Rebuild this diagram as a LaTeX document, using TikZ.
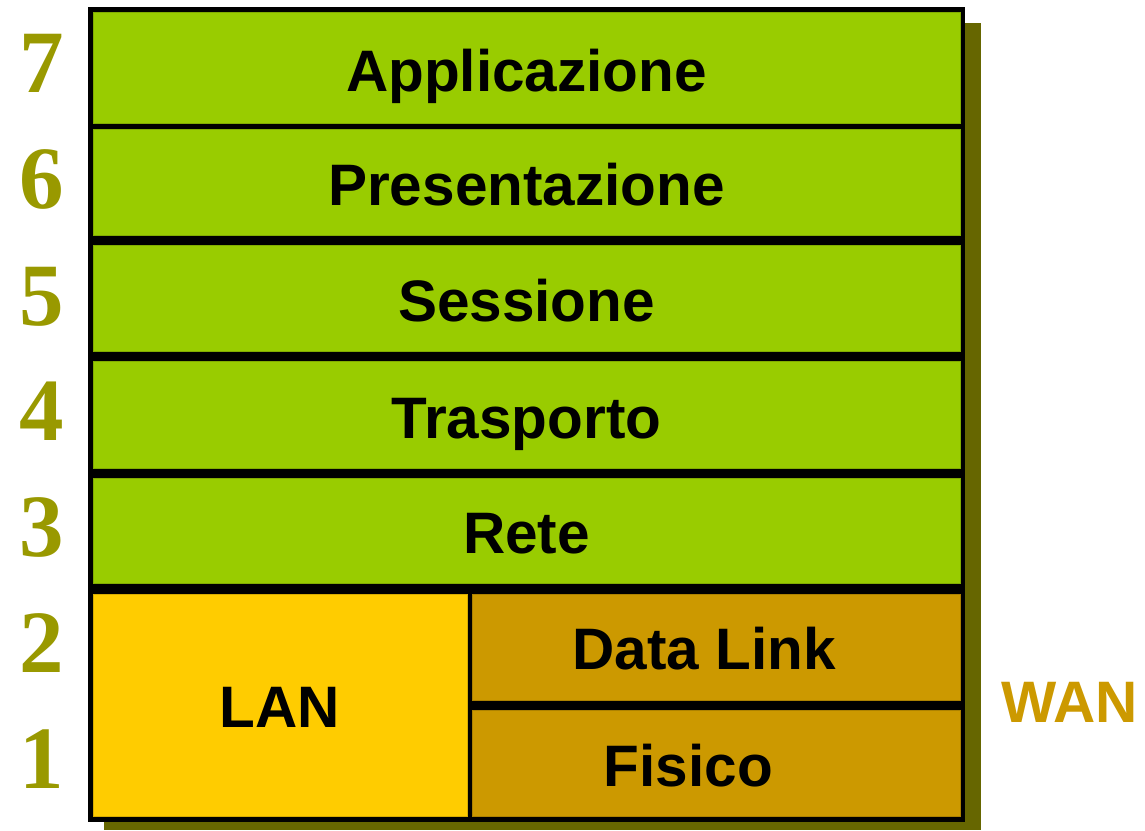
\documentclass[tikz,border=0pt]{standalone}
\usepackage{fontspec}
\setmainfont{Liberation Sans}
\newfontfamily\numfont{Liberation Serif}
\definecolor{layergreen}{HTML}{99CC00}
\definecolor{langold}{HTML}{FFCC00}
\definecolor{wanochre}{HTML}{CC9900}
\definecolor{shadowolive}{HTML}{666600}
\definecolor{numolive}{HTML}{999900}
\tikzset{
  cell/.style={anchor=north west, inner sep=0pt, outer sep=0pt, line width=0.8pt},
  greencell/.style={cell, fill=layergreen, draw=layergreen!85!black},
  lancell/.style={cell, fill=langold, draw=langold!85!black},
  wancell/.style={cell, fill=wanochre, draw=wanochre!85!black},
  lbl/.style={anchor=base, inner sep=0pt, font=\fontsize{58.5}{60}\selectfont\bfseries},
  num/.style={anchor=base, inner sep=0pt, text=numolive, font=\numfont\fontsize{89}{92}\selectfont\bfseries},
}
\begin{document}
\begin{tikzpicture}[x=1pt, y=-1pt]
  \useasboundingbox (0,0) rectangle (1145,830);
  % drop shadow and black frame
  \fill[shadowolive] (104,23) rectangle (981,830);
  \fill[black] (88,7) rectangle (965,821.7);
  % upper layers
  \node[greencell, minimum width=867pt, minimum height=111.3pt] (r7) at (93,12) {};
  \node[greencell, minimum width=867pt, minimum height=105.7pt] (r6) at (93,129.3) {};
  \node[greencell, minimum width=867pt, minimum height=106pt] (r5) at (93,245.7) {};
  \node[greencell, minimum width=867pt, minimum height=106.6pt] (r4) at (93,361.7) {};
  \node[greencell, minimum width=867pt, minimum height=104.7pt] (r3) at (93,478.3) {};
  % lower layers
  \node[lancell, minimum width=374pt, minimum height=222.7pt] (lan) at (93,594) {};
  \node[wancell, minimum width=488pt, minimum height=106pt] (dl) at (472,594) {};
  \node[wancell, minimum width=488pt, minimum height=106.7pt] (fis) at (472,710) {};
  % layer names
  \node[lbl] (t7) at ([yshift=-24pt]r7.center) {Applicazione};
  \node[lbl] (t6) at ([yshift=-23pt]r6.center) {Presentazione};
  \node[lbl] (t5) at ([yshift=-23pt]r5.center) {Sessione};
  \node[lbl] (t4) at ([yshift=-23pt]r4.center) {Trasporto};
  \node[lbl] (t3) at ([yshift=-23pt]r3.center) {Rete};
  \node[lbl] (tlan) at ([yshift=-22pt]lan.center) {LAN};
  \node[lbl] (tdl) at ([xshift=-12pt, yshift=-22pt]dl.center) {Data Link};
  \node[lbl] (tfis) at ([xshift=-27.5pt, yshift=-23.5pt]fis.center) {Fisico};
  \node[lbl, text=wanochre] (twan) at (1069.5,722) {WAN};
  % layer numbers
  \node[num] (n7) at (42,92) {7};
  \node[num] (n6) at (42,208) {6};
  \node[num] (n5) at (42,325) {5};
  \node[num] (n4) at (42,440) {4};
  \node[num] (n3) at (42,556) {3};
  \node[num] (n2) at (42,672) {2};
  \node[num] (n1) at (42,788) {1};
\end{tikzpicture}
\end{document}
